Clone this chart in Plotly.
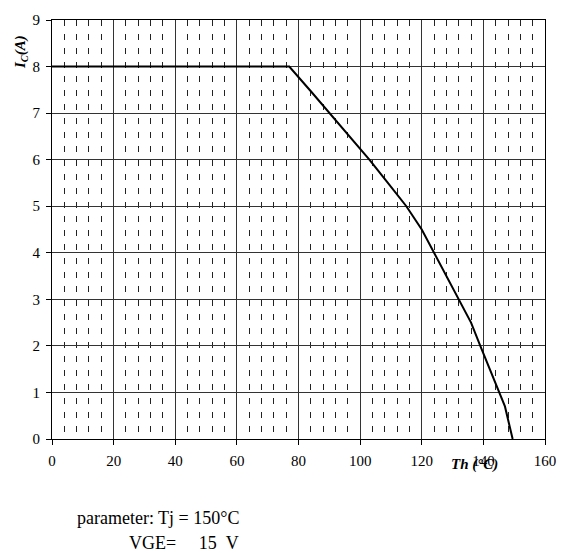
import plotly.graph_objects as go

# Derating curve: collector current vs heatsink temperature
th_c = [0, 77, 84, 90, 96, 103, 109, 115, 120, 124, 128, 132, 136, 139, 142, 145, 147, 149.5]
ic_a = [8, 8, 7.47, 7.0, 6.53, 6.0, 5.5, 5.0, 4.5, 4.0, 3.5, 3.0, 2.5, 2.0, 1.5, 1.0, 0.7, 0.0]

x_ticks = [0, 20, 40, 60, 80, 100, 120, 140, 160]
y_ticks = [0, 1, 2, 3, 4, 5, 6, 7, 8, 9]

FONT = "Liberation Serif"

fig = go.Figure()
fig.add_trace(go.Scatter(x=th_c, y=ic_a, mode="lines",
                         line=dict(color="black", width=2),
                         showlegend=False, hoverinfo="skip"))

tickfont = dict(family=FONT, size=15, color="black")
fig.update_layout(
    width=561, height=553,
    margin=dict(l=52, r=16, t=20, b=114),
    paper_bgcolor="white", plot_bgcolor="white",
    font=dict(family=FONT, size=15, color="black"),
    xaxis=dict(range=[0, 160], tickvals=x_ticks, ticktext=[str(v) for v in x_ticks],
               tickfont=tickfont,
               showgrid=True, gridcolor="#333", gridwidth=1, automargin=False,
               showline=True, linecolor="black", linewidth=1, mirror=True,
               ticks="outside", ticklen=5, tickcolor="black", ticklabelstandoff=3,
               zeroline=False,
               minor=dict(dtick=4, tick0=0, showgrid=True, gridcolor="#222",
                          gridwidth=1, griddash="6px,8px", ticks="")),
    yaxis=dict(range=[0, 9], tickvals=y_ticks, ticktext=[str(v) for v in y_ticks],
               tickfont=tickfont,
               showgrid=True, gridcolor="#333", gridwidth=1, automargin=False,
               showline=True, linecolor="black", linewidth=1, mirror=True,
               ticks="outside", ticklen=5, tickcolor="black", ticklabelstandoff=3,
               zeroline=False),
)

annos = [
    dict(text="<b><i>I<sub>C</sub>(A)</i></b>", xref="paper", yref="paper",
         x=-(52 - 21) / 493, y=(439 - 52) / 419, textangle=-90, showarrow=False,
         font=dict(family=FONT, size=15), xanchor="center", yanchor="middle"),
    dict(text="<b><i>Th</i></b> <b><i>(°C)</i></b>", xref="paper", yref="paper",
         x=(474 - 52) / 493, y=-(464 - 439) / 419, showarrow=False,
         font=dict(family=FONT, size=15), xanchor="center", yanchor="middle"),
    dict(text="parameter: Tj = 150°C", xref="paper", yref="paper",
         x=(75 - 52) / 493, y=-(518 - 439) / 419, showarrow=False,
         font=dict(family=FONT, size=18), xanchor="left", yanchor="middle"),
    dict(text="VGE=\u00a0\u00a0\u00a0\u00a0\u00a015\u00a0\u00a0V", xref="paper", yref="paper",
         x=(127 - 52) / 493, y=-(543 - 439) / 419, showarrow=False,
         font=dict(family=FONT, size=18), xanchor="left", yanchor="middle"),
]
fig.update_layout(annotations=annos)

fig.write_html("out.html")
